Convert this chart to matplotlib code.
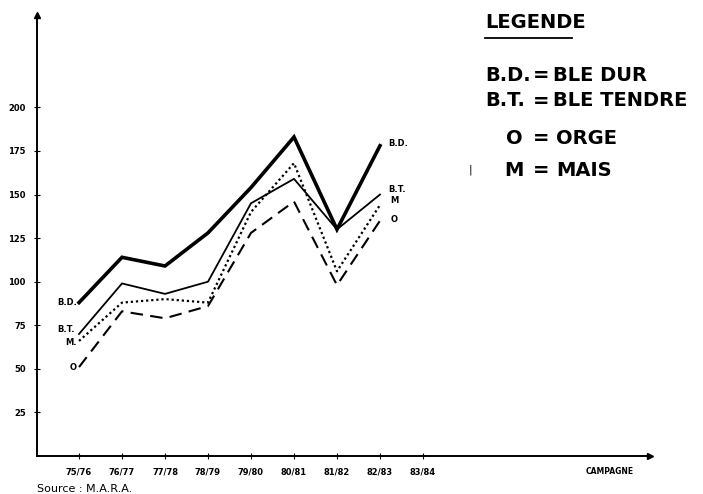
import matplotlib
matplotlib.use('Agg')
import matplotlib.pyplot as plt

campagnes = ['75/76', '76/77', '77/78', '78/79', '79/80', '80/81', '81/82', '82/83', '83/84']
ble_dur = [88, 114, 109, 128, 154, 183, 130, 178]
ble_tendre = [70, 99, 93, 100, 145, 159, 130, 150]
mais = [66, 88, 90, 88, 140, 168, 106, 144]
orge = [51, 83, 79, 86, 128, 146, 98, 135]
y_ticks = [25, 50, 75, 100, 125, 150, 175, 200]

font = ['DejaVu Sans']

fig = plt.figure(figsize=(7.03, 4.94), dpi=100)
ax = fig.add_axes([37 / 703, 38 / 494, 613 / 703, 441 / 494])

x = list(range(len(ble_dur)))
ax.plot(x, ble_dur, color='black', lw=2.6, solid_joinstyle='miter')
ax.plot(x, ble_tendre, color='black', lw=1.3)
ax.plot(x, mais, color='black', lw=1.6, linestyle=(0, (1, 1.3)))
ax.plot(x, orge, color='black', lw=1.5, linestyle=(0, (6, 3.5)))

# etiquettes au bout des courbes
lab = dict(fontsize=6, fontweight='bold', family=font)
ax.text(-0.05, ble_dur[0], 'B.D.', ha='right', va='center', **lab)
ax.text(-0.1, ble_tendre[0] + 2.5, 'B.T.', ha='right', va='center', **lab)
ax.text(-0.05, mais[0] - 1, 'M.', ha='right', va='center', **lab)
ax.text(-0.05, orge[0], 'O', ha='right', va='center', **lab)
ax.text(7.2, ble_dur[-1] + 1, 'B.D.', ha='left', va='center', **lab)
ax.text(7.2, ble_tendre[-1] + 3, 'B.T.', ha='left', va='center', **lab)
ax.text(7.25, mais[-1] + 2.5, 'M', ha='left', va='center', **lab)
ax.text(7.25, orge[-1] + 0.5, 'O', ha='left', va='center', **lab)

ax.set_xlim(-0.977, 13.28)
ax.set_ylim(0, 253)
ax.set_xticks(range(len(campagnes)))
ax.set_xticklabels(campagnes)
ax.set_yticks(y_ticks)
ax.set_yticklabels([str(v) for v in y_ticks])
ax.tick_params(axis='both', direction='inout', length=4, width=0.8, labelsize=6, pad=6)
for t in ax.get_xticklabels() + ax.get_yticklabels():
    t.set_fontweight('bold')
    t.set_family(font)
ax.spines['top'].set_visible(False)
ax.spines['right'].set_visible(False)
ax.spines['left'].set_linewidth(1.4)
ax.spines['bottom'].set_linewidth(1.4)

# fleches des axes
ax.plot([-0.977], [253], marker='^', color='black', markersize=4, clip_on=False)
ax.plot([13.28], [0], marker='>', color='black', markersize=4, clip_on=False)
ax.text(12.35, -9, 'CAMPAGNE', ha='center', va='center', fontsize=5.5, fontweight='bold', family=font)

fig.text(37 / 703, 1 - 489 / 494, 'Source : M.A.R.A.', ha='left', va='center', fontsize=8, family=font)

# legende
leg = dict(fontsize=14, fontweight='bold', family=font, va='center')
fig.text(485 / 703, 1 - 22 / 494, 'LEGENDE', ha='left', **leg)
fig.add_artist(plt.Line2D([485 / 703, 572 / 703], [1 - 38 / 494, 1 - 38 / 494], color='black', lw=1.3))
fig.text(485 / 703, 1 - 75 / 494, 'B.D.', ha='left', **leg)
fig.text(541 / 703, 1 - 75 / 494, '=', ha='center', **leg)
fig.text(553 / 703, 1 - 75 / 494, 'BLE DUR', ha='left', **leg)
fig.text(485 / 703, 1 - 101 / 494, 'B.T.', ha='left', **leg)
fig.text(541 / 703, 1 - 101 / 494, '=', ha='center', **leg)
fig.text(553 / 703, 1 - 101 / 494, 'BLE TENDRE', ha='left', **leg)
fig.text(514 / 703, 1 - 138 / 494, 'O', ha='center', **leg)
fig.text(541 / 703, 1 - 138 / 494, '=', ha='center', **leg)
fig.text(556 / 703, 1 - 138 / 494, 'ORGE', ha='left', **leg)
fig.text(514 / 703, 1 - 170 / 494, 'M', ha='center', **leg)
fig.text(541 / 703, 1 - 170 / 494, '=', ha='center', **leg)
fig.text(556 / 703, 1 - 170 / 494, 'MAIS', ha='left', **leg)
fig.text(470 / 703, 1 - 170 / 494, '|', ha='center', va='center', fontsize=8, family=font)

fig.savefig('out.png', dpi=100)
